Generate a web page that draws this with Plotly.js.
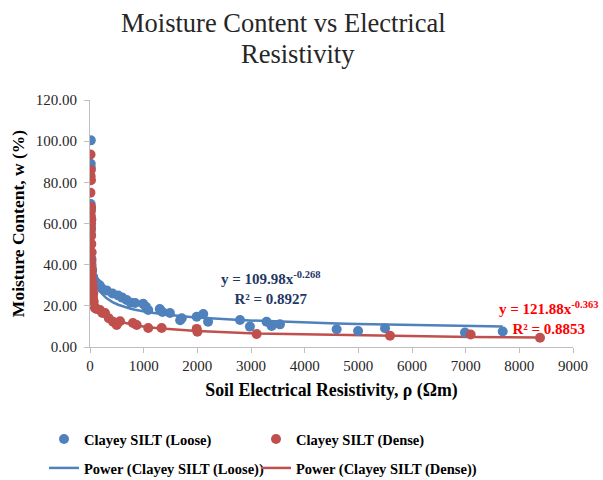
<!DOCTYPE html>
<html>
<head>
<meta charset="utf-8">
<script src="https://cdn.plot.ly/plotly-3.0.1.min.js"></script>
<style>html,body{margin:0;padding:0;background:#fff;}#chart{width:603px;height:480px;}</style>
</head>
<body>
<div id="chart"></div>
<script>
// Clayey SILT (Loose) – resistivity (Ωm) and moisture content (%)
const looseX = [15, 14, 16, 13, 18, 15, 20, 13, 17, 22, 25, 30, 40, 60, 90, 130, 180, 218, 310, 420, 525, 600, 683, 760, 840, 990, 1040, 1085, 1300, 1350, 1490, 1680, 1710, 1988, 2110, 2200, 2795, 2980, 3290, 3385, 3540, 4596, 4995, 5497, 6987, 7690];
const looseY = [100.4, 89, 87, 69.5, 67, 63, 58, 55, 50, 46, 43, 40, 37, 34, 32, 31, 30, 28.5, 27.5, 26, 25, 24, 22.8, 21.5, 21.4, 21, 19.6, 18, 18.5, 17, 16.5, 13, 14, 14.7, 16, 12.3, 13.1, 9.9, 12.3, 10.2, 11, 8.6, 7.8, 9.1, 7, 7.5];
// Clayey SILT (Dense)
const denseX = [10, 15, 12, 18, 8, 20, 15, 12, 25, 20, 18, 22, 25, 30, 28, 35, 30, 40, 45, 50, 60, 55, 70, 93, 120, 186, 230, 280, 350, 430, 497, 560, 800, 870, 1085, 1335, 1988, 2000, 3105, 5590, 7093, 8385];
const denseY = [93.5, 86, 83, 81, 75, 68, 66, 64, 62, 60, 57, 54, 50, 46, 42, 38, 35, 32, 30, 28, 26, 24, 22, 19, 18.5, 18, 16.5, 16.5, 14, 12.3, 10.7, 12.5, 11.7, 10.7, 9.2, 9.2, 8.8, 7.4, 6.3, 5.5, 6.1, 4.5];
// Power trendline coefficients as printed on the chart
const LOOSE_A = 109.98, LOOSE_B = -0.268, LOOSE_R2 = "0.8927";
const DENSE_A = 121.88, DENSE_B = -0.363, DENSE_R2 = "0.8853";
const TITLE_LINES = ['Moisture Content vs Electrical', 'Resistivity'];
const SERIES_NAMES = ['Clayey SILT (Loose)', 'Clayey SILT (Dense)', 'Power (Clayey SILT (Loose))', 'Power (Clayey SILT (Dense))'];

const BLUE = '#4F81BD', RED = '#C0504D';
const FONT = 'Liberation Serif';

function trend(xs, a, b) {
  const ux = Array.from(new Set(xs)).sort((p, q) => p - q);
  return {x: ux, y: ux.map(v => a * Math.pow(v, b))};
}
const tL = trend(looseX, LOOSE_A, LOOSE_B);
const tD = trend(denseX, DENSE_A, DENSE_B);

const traces = [
  {type:'scatter', mode:'lines', x:tL.x, y:tL.y, line:{color:BLUE, width:2.5}, name:'<b>' + SERIES_NAMES[2] + '</b>', legend:'legend3', hoverinfo:'skip'},
  {type:'scatter', mode:'lines', x:tD.x, y:tD.y, line:{color:RED, width:2.5}, name:'<b>' + SERIES_NAMES[3] + '</b>', legend:'legend4', hoverinfo:'skip'},
  {type:'scatter', mode:'markers', x:looseX, y:looseY, marker:{color:BLUE, size:10}, name:'<b>' + SERIES_NAMES[0] + '</b>', legend:'legend'},
  {type:'scatter', mode:'markers', x:denseX, y:denseY, marker:{color:RED, size:10}, name:'<b>' + SERIES_NAMES[1] + '</b>', legend:'legend2'}
];

const axisCommon = {
  showline:true, linecolor:'#BFBFBF', linewidth:1, ticks:'outside', ticklen:5, tickcolor:'#BFBFBF',
  showgrid:false, zeroline:false, tickfont:{family:FONT, size:15, color:'#262626'}
};

function legendAt(px, py) {
  return {orientation:'h', xref:'container', yref:'container', x:px/603, y:1-py/480, xanchor:'left', yanchor:'middle',
    font:{family:FONT, size:14.5, color:'#000'}, bgcolor:'rgba(0,0,0,0)', borderwidth:0};
}

const layout = {
  width:603, height:480,
  margin:{l:90, r:30, t:100, b:133, autoexpand:false},
  paper_bgcolor:'#fff', plot_bgcolor:'#fff',
  font:{family:FONT, color:'#262626'},
  xaxis:Object.assign({}, axisCommon, {range:[0,9000], dtick:1000, tick0:0,
    title:{text:'<b>Soil Electrical Resistivity, ρ (Ωm)</b>', font:{family:FONT, size:17.8, color:'#000'}, standoff:10}}),
  yaxis:Object.assign({}, axisCommon, {range:[0,120], dtick:20, tick0:0, tickformat:'.2f', ticklabelstandoff:4,
    title:{text:'<b>Moisture Content, w (%)</b>', font:{family:FONT, size:17.5, color:'#000'}, standoff:6}}),
  showlegend:true,
  legend:legendAt(44, 439),
  legend2:legendAt(256, 439),
  legend3:legendAt(44, 468),
  legend4:legendAt(256, 468),
  annotations:[
    {xref:'paper', yref:'paper', x:(283-90)/483, y:(347-22.7)/247, xanchor:'center', yanchor:'middle', showarrow:false,
     text:TITLE_LINES[0], font:{family:FONT, size:26.5, color:'#262626'}},
    {xref:'paper', yref:'paper', x:(297.5-90)/483, y:(347-53.7)/247, xanchor:'center', yanchor:'middle', showarrow:false,
     text:TITLE_LINES[1], font:{family:FONT, size:26.5, color:'#262626'}},
    {xref:'x', yref:'y', x:3354, y:28.7, showarrow:false, align:'center',
     text:'<b>y = ' + LOOSE_A + 'x<sup>' + LOOSE_B + '</sup><br>R² = ' + LOOSE_R2 + '</b>',
     font:{family:FONT, size:15, color:'#1F3864'}},
    {xref:'x', yref:'y', x:8540, y:14.1, showarrow:false, align:'center',
     text:'<b>y = ' + DENSE_A + 'x<sup>' + DENSE_B + '</sup><br>R² = ' + DENSE_R2 + '</b>',
     font:{family:FONT, size:15, color:'#FF0000'}}
  ]
};

Plotly.newPlot('chart', traces, layout, {staticPlot:true, displayModeBar:false});
</script>
</body>
</html>
